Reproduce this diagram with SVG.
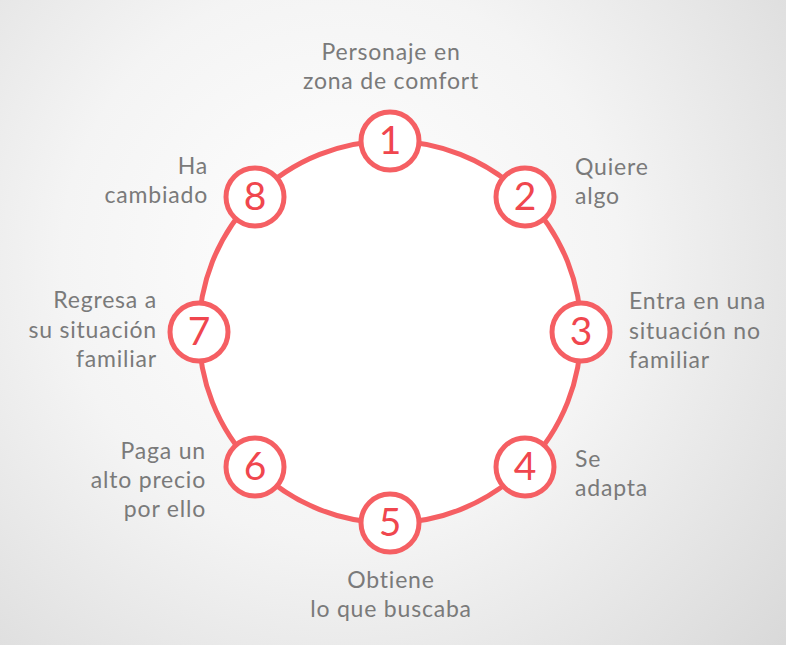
<svg xmlns="http://www.w3.org/2000/svg" width="786" height="645" viewBox="0 0 786 645">
<defs>
<radialGradient id="bg" cx="340" cy="260" r="620" gradientUnits="userSpaceOnUse">
<stop offset="0" stop-color="#ffffff"/>
<stop offset="0.45" stop-color="#f4f4f4"/>
<stop offset="1" stop-color="#d6d6d6"/>
</radialGradient>
</defs>
<style>
.ring{fill:#ffffff;stroke:#f55f63;stroke-width:5}
.node{fill:#ffffff;stroke:#f55f63;stroke-width:5}
.num{font-family:"Lato","Open Sans",sans-serif;font-size:39px;font-weight:400;fill:#f0464e;text-anchor:middle}
.lbl{font-family:"Lato","Open Sans",sans-serif;font-size:23px;font-weight:400;letter-spacing:0.8px;fill:#7a7a7a}
.c{text-anchor:middle}.l{text-anchor:start}.r{text-anchor:end}
</style>
<rect width="786" height="645" fill="url(#bg)"/>
<g id="connectors">
<circle class="ring" cx="390" cy="332" r="191"/>
</g>
<g id="n1"><circle class="node" cx="390" cy="141" r="29"/><text class="num" x="390" y="154">1</text>
<text class="lbl c" x="391" y="60">Personaje en</text><text class="lbl c" x="391" y="89">zona de comfort</text></g>
<g id="n2"><circle class="node" cx="525" cy="197" r="29"/><text class="num" x="525" y="210">2</text>
<text class="lbl l" x="575" y="175">Quiere</text><text class="lbl l" x="575" y="204">algo</text></g>
<g id="n3"><circle class="node" cx="581" cy="332" r="29"/><text class="num" x="581" y="345">3</text>
<text class="lbl l" x="629" y="309">Entra en una</text><text class="lbl l" x="629" y="339">situación no</text><text class="lbl l" x="629" y="368">familiar</text></g>
<g id="n4"><circle class="node" cx="525" cy="467" r="29"/><text class="num" x="525" y="480">4</text>
<text class="lbl l" x="575" y="467">Se</text><text class="lbl l" x="575" y="496">adapta</text></g>
<g id="n5"><circle class="node" cx="390" cy="523" r="29"/><text class="num" x="390" y="536">5</text>
<text class="lbl c" x="391" y="588">Obtiene</text><text class="lbl c" x="391" y="617">lo que buscaba</text></g>
<g id="n6"><circle class="node" cx="255" cy="467" r="29"/><text class="num" x="255" y="480">6</text>
<text class="lbl r" x="206" y="459">Paga un</text><text class="lbl r" x="206" y="488">alto precio</text><text class="lbl r" x="206" y="517">por ello</text></g>
<g id="n7"><circle class="node" cx="199" cy="332" r="29"/><text class="num" x="199" y="345">7</text>
<text class="lbl r" x="157" y="308">Regresa a</text><text class="lbl r" x="157" y="338">su situación</text><text class="lbl r" x="157" y="367">familiar</text></g>
<g id="n8"><circle class="node" cx="255" cy="197" r="29"/><text class="num" x="255" y="210">8</text>
<text class="lbl r" x="208" y="174">Ha</text><text class="lbl r" x="208" y="203">cambiado</text></g>
</svg>
